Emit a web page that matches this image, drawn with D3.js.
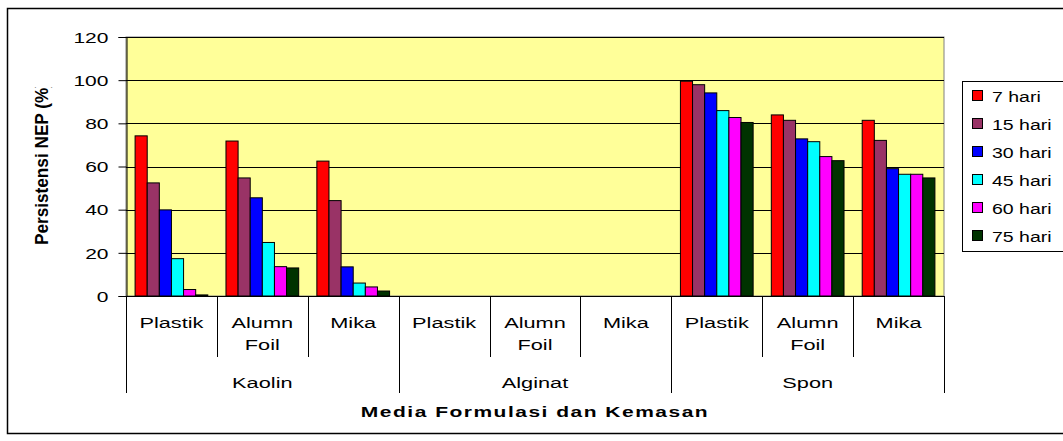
<!DOCTYPE html>
<html>
<head>
<meta charset="utf-8">
<script src="https://cdn.jsdelivr.net/npm/d3@7"></script>
<style>
  body { margin: 0; background: #fff; }
  text { font-family: Arial, "Liberation Sans", sans-serif; fill: #000; }
</style>
</head>
<body>
<script>
// chart data
var groups = ["Kaolin", "Alginat", "Spon"];
var packs = ["Plastik", "Alumn Foil", "Mika"];
var series = ["7 hari", "15 hari", "30 hari", "45 hari", "60 hari", "75 hari"];
var colors = ["#ff0000", "#993366", "#0000ff", "#00ffff", "#ff00ff", "#003300"];
var yTicks = [0, 20, 40, 60, 80, 100, 120];

// one array per series, 9 values: Kaolin (Plastik, Alumn Foil, Mika), Alginat (...), Spon (...)
var hari7  = [74.2, 71.8, 62.5, 0, 0, 0, 99.5, 83.9, 81.4];
var hari15 = [52.4, 54.7, 44.2, 0, 0, 0, 97.9, 81.4, 72.1];
var hari30 = [39.9, 45.5, 13.5, 0, 0, 0, 94.1, 72.8, 59.0];
var hari45 = [17.3, 24.8, 6.0, 0, 0, 0, 85.9, 71.5, 56.4];
var hari60 = [3.0, 13.6, 4.2, 0, 0, 0, 82.7, 64.6, 56.4];
var hari75 = [0.5, 13.0, 2.3, 0, 0, 0, 80.4, 62.7, 54.7];
var values = [hari7, hari15, hari30, hari45, hari60, hari75];

var W = 1063, H = 441;
var plot = { left: 126, right: 944, top: 37, bottom: 296 };

// category keys: group|pack
var cats = [];
groups.forEach(function(g) { packs.forEach(function(p) { cats.push(g + "|" + p); }); });

var svg = d3.select("body").append("svg")
    .attr("width", W).attr("height", H);

// outer chart border
svg.append("rect")
    .attr("x", 7.5).attr("y", 8.5)
    .attr("width", 1080).attr("height", 425)
    .attr("fill", "#fff").attr("stroke", "#000").attr("stroke-width", 1.5);

var x0 = d3.scaleBand().domain(cats).range([plot.left, plot.right]).padding(0);
var bw = x0.bandwidth();
var x1 = d3.scaleBand().domain(series).range([bw * 0.1, bw * 0.9]).padding(0);
var y = d3.scaleLinear().domain([0, 120]).range([plot.bottom, plot.top]);

// plot area background
svg.append("rect")
    .attr("x", plot.left).attr("y", plot.top)
    .attr("width", plot.right - plot.left).attr("height", plot.bottom - plot.top)
    .attr("fill", "#ffff99").attr("stroke", "#808080").attr("stroke-width", 1);

// horizontal gridlines
svg.append("g").selectAll("line")
    .data(yTicks.filter(function(d) { return d > 0; }))
    .enter().append("line")
    .attr("x1", plot.left).attr("x2", plot.right)
    .attr("y1", function(d) { return Math.round(y(d)) + 0.5; })
    .attr("y2", function(d) { return Math.round(y(d)) + 0.5; })
    .attr("stroke", "#000").attr("stroke-width", 1);

// bars
var barG = svg.append("g");
series.forEach(function(s, si) {
    barG.append("g").selectAll("rect")
        .data(values[si].map(function(v, i) { return { cat: cats[i], v: v }; })
              .filter(function(d) { return d.v > 0; }))
        .enter().append("rect")
        .attr("x", function(d) { return x0(d.cat) + x1(s); })
        .attr("y", function(d) { return y(d.v); })
        .attr("width", x1.bandwidth())
        .attr("height", function(d) { return y(0) - y(d.v); })
        .attr("fill", colors[si])
        .attr("stroke", "#000").attr("stroke-width", 1);
});

// y axis
var yAxis = svg.append("g")
    .attr("transform", "translate(" + (plot.left + 0.5) + ",0)")
    .call(d3.axisLeft(y).tickValues(yTicks).tickSize(8).tickPadding(10));
yAxis.select(".domain").attr("stroke", "#000");
yAxis.selectAll(".tick line").attr("stroke", "#000");
var sxTick = 1.45;
yAxis.selectAll(".tick text")
    .attr("font-size", 14.5)
    .attr("font-family", "Arial, 'Liberation Sans', sans-serif")
    .attr("x", -18 / sxTick)
    .attr("dy", "0.36em")
    .attr("transform", "scale(" + sxTick + ",1)");

// x axis line
svg.append("line")
    .attr("x1", plot.left).attr("x2", plot.right)
    .attr("y1", plot.bottom + 0.5).attr("y2", plot.bottom + 0.5)
    .attr("stroke", "#000");

// category dividers (inner) and group dividers
var innerBottom = 357, groupBottom = 393;
var edges = cats.map(function(c) { return x0(c); }).concat([plot.right]);
svg.append("g").selectAll("line")
    .data(edges)
    .enter().append("line")
    .attr("x1", function(d) { return Math.round(d) + 0.5; })
    .attr("x2", function(d) { return Math.round(d) + 0.5; })
    .attr("y1", plot.bottom)
    .attr("y2", function(d, i) { return i % 3 === 0 ? groupBottom : innerBottom; })
    .attr("stroke", "#000");

function stretchText(parent, str, x, yy, size, sx, opts) {
    opts = opts || {};
    return parent.append("text")
        .attr("transform", "translate(" + x + "," + yy + ") scale(" + sx + ",1)")
        .attr("text-anchor", opts.anchor || "middle")
        .attr("font-size", size)
        .attr("font-weight", opts.bold ? "bold" : "normal")
        .attr("letter-spacing", opts.spacing || 0)
        .text(str);
}

// pack labels (two lines for "Alumn Foil")
var labG = svg.append("g");
cats.forEach(function(c) {
    var p = c.split("|")[1];
    var cx = x0(c) + bw / 2;
    var words = p.split(" ");
    words.forEach(function(w, wi) {
        stretchText(labG, w, cx, 328 + wi * 22, 15, 1.45);
    });
});

// group labels
groups.forEach(function(g) {
    var first = x0(g + "|" + packs[0]);
    var last = x0(g + "|" + packs[packs.length - 1]) + bw;
    stretchText(labG, g, (first + last) / 2, 388, 15, 1.45);
});

// x axis title
stretchText(svg, "Media Formulasi dan Kemasan", (plot.left + plot.right) / 2, 417, 14, 1.5,
    { bold: true, spacing: 1 });

// y axis title (rotated, clipped at top like the original)
svg.append("clipPath").attr("id", "ytclip")
    .append("rect").attr("x", 0).attr("y", 87).attr("width", 100).attr("height", 300);
svg.append("g").attr("clip-path", "url(#ytclip)")
    .append("text")
    .attr("transform", "translate(48,245) scale(1.25,1) rotate(-90)")
    .attr("font-size", 14)
    .attr("font-weight", "bold")
    .attr("textLength", 163)
    .attr("lengthAdjust", "spacingAndGlyphs")
    .text("Persistensi NEP (%)");

// legend
var leg = svg.append("g");
leg.append("rect")
    .attr("x", 962.5).attr("y", 81.5)
    .attr("width", 120).attr("height", 170)
    .attr("fill", "#fff").attr("stroke", "#000");
series.forEach(function(s, i) {
    var cy = 96 + i * 28;
    leg.append("rect")
        .attr("x", 972.5).attr("y", cy - 5.5)
        .attr("width", 10).attr("height", 10)
        .attr("fill", colors[i]).attr("stroke", "#000");
    stretchText(leg, s, 992, cy + 5.5, 15, 1.3, { anchor: "start" });
});
</script>
</body>
</html>
